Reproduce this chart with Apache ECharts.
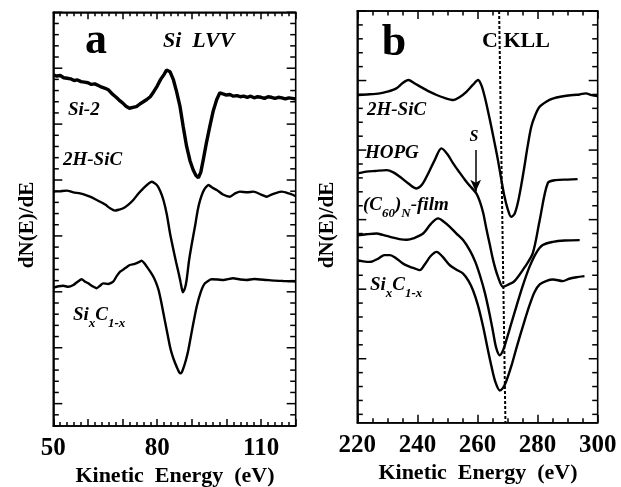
<!DOCTYPE html>
<html><head><meta charset="utf-8">
<script src="https://cdn.jsdelivr.net/npm/echarts@6/dist/echarts.min.js"></script>
<style>html,body{margin:0;padding:0;background:#fff}#c{width:621px;height:487px}</style>
</head><body><div id="c"></div>
<script>
// ---------- Panel a : Si LVV ----------
const aXTickLabels = [50, 80, 110];
const aSi2 = [[50,31.40],[51,31.30],[52,31.35],[53,31.15],[54,31.10],[55,31.05],[56,30.90],[57,30.95],[58,30.80],[59,30.75],[60,30.70],[61,30.55],[62,30.60],[63,30.45],[64,30.30],[65,30.20],[66,30.05],[67,29.70],[68,29.45],[69,29.15],[70,28.90],[71,28.60],[72,28.42],[73,28.50],[74,28.56],[75,28.80],[76,29.00],[77,29.20],[78,29.45],[79,29.90],[80,30.40],[81,31.00],[82,31.45],[82.7,31.84],[83.7,31.69],[84.7,30.95],[85.6,29.9],[86.6,28.56],[87.5,26.8],[88.5,25.0],[89.5,23.7],[90.4,22.9],[91.2,22.4],[91.9,22.2],[92.6,22.7],[93.3,23.8],[94.2,25.3],[95.2,26.8],[96.2,28.2],[97.2,29.2],[98.1,29.8],[99,29.7],[100,29.6],[101,29.65],[102,29.5],[103,29.55],[104,29.45],[105,29.5],[106,29.4],[107,29.5],[108,29.35],[109,29.45],[110,29.4],[111,29.3],[112,29.45],[113,29.4],[114,29.3],[115,29.4],[116,29.35],[117,29.25],[118,29.35],[119,29.3],[120,29.25]];
const a2HSiC = [[50,20.96],[52,21.0],[53.9,21.05],[55.8,20.9],[57.7,20.81],[59,20.7],[60.6,20.51],[62,20.3],[63.5,20.06],[65,19.8],[66.4,19.47],[67.8,19.26],[69,19.35],[70.2,19.47],[71.7,19.8],[73.1,20.21],[74.6,20.8],[76,21.26],[77.2,21.6],[78.4,21.85],[79.9,21.56],[80.9,21.0],[81.8,20.21],[82.8,18.9],[83.7,17.24],[84.7,15.74],[85.5,14.6],[86.2,13.66],[86.8,12.8],[87.4,11.96],[88,12.3],[88.5,13.06],[89.2,14.8],[90,16.3],[91,18.0],[91.7,19.3],[92.4,20.21],[93.5,21.1],[94.8,21.56],[96,21.3],[97.2,21.11],[99,20.7],[101,20.51],[102.5,20.8],[103.9,20.96],[106,20.9],[107.8,20.96],[110,20.7],[111.6,20.51],[113,20.7],[114,20.81],[116,20.96],[118,20.8],[119.3,20.66],[120,20.55]];
const aSiC = [[50,12.37],[51.5,12.5],[52.9,12.55],[54.3,12.45],[55.8,12.61],[57,12.9],[58.2,13.12],[59.2,12.9],[60.1,12.76],[61.3,12.5],[62.5,12.32],[63.5,12.55],[64.4,12.76],[65.8,12.7],[67.3,12.91],[68.3,13.4],[69.3,13.8],[70.7,14.1],[72.1,14.4],[73.5,14.5],[75,14.7],[75.5,14.79],[76.3,14.55],[77,14.25],[78,13.8],[78.9,13.35],[79.7,12.8],[80.4,12.16],[81.1,11.2],[81.8,10.08],[82.8,8.5],[83.7,7.09],[84.5,6.2],[85.2,5.61],[85.9,5.1],[86.6,4.71],[87.1,4.8],[87.6,5.19],[88.3,5.9],[89,6.8],[90.2,8.8],[91.4,10.67],[92.6,12.0],[93.8,12.76],[95.7,13.12],[97.5,13.1],[99.1,13.06],[101.9,13.21],[104,13.1],[105.8,13.06],[108,13.15],[111.6,13.06],[114,13.0],[116.4,12.97],[118,12.95],[120,12.91]];
const aYMinorTicks = [0,1,2,3,4,5,6,7,8,9,10,11,12,13,14,15,16,17,18,19,20,21,22,23,24,25,26,27,28,29,30,31,32,33,34,35,36,37];
const aYMajorTicks = [2,7,12,17,22,27,32,37];

// ---------- Panel b : C KLL ----------
const bXTickLabels = [220, 240, 260, 280, 300];
const b2HSiC = [[220,23.96],[223,24.0],[227.5,24.08],[230,24.2],[233,24.44],[235,24.8],[237,25.04],[239,24.8],[242,24.44],[244,24.2],[246.4,23.96],[249,23.75],[252,23.6],[254,23.8],[256.3,24.19],[258.5,24.7],[260.2,25.04],[261.4,24.6],[262.4,23.83],[263.5,22.8],[264.6,21.68],[265.7,20.5],[266.8,19.28],[268,17.8],[269,16.64],[270,15.8],[271.2,15.2],[272.3,15.4],[273.4,16.19],[274.5,17.4],[275.6,18.8],[276.7,20.3],[277.9,21.68],[279.2,22.5],[280.6,23.1],[283,23.5],[285,23.7],[288,23.85],[291.7,23.96],[294,24.0],[296,24.08],[298,23.95],[300,23.88]];
const bHOPG = [[220,18.32],[223,18.45],[226,18.5],[229.8,18.56],[232,18.4],[234.2,18.08],[237,17.6],[239.7,17.24],[241.5,17.5],[243.6,18.32],[245.8,19.3],[248,20.12],[250,19.7],[251.9,19.04],[254,18.4],[256.3,17.72],[258,17.3],[259.6,16.88],[260.8,16.3],[261.9,15.47],[262.9,14.4],[264,13.3],[265.3,12.0],[266.8,10.9],[268.5,10.17],[270,10.3],[272.4,10.6],[275.7,11.58],[278.4,12.59],[280.7,14.96],[283.4,17.63],[286,17.84],[290,17.88],[293.3,17.91]];
const bC60 = [[220,13.88],[223,13.95],[226.4,14.0],[228.5,13.9],[230.9,13.76],[234,13.6],[236.5,13.55],[238.6,13.65],[241.9,14.0],[244.5,14.7],[246.9,15.09],[248.8,14.85],[250.8,14.48],[253,14.0],[255.2,13.53],[257.4,12.81],[259.2,12.0],[260.8,11.0],[262.5,9.7],[264.1,8.13],[265.2,6.9],[266.2,5.8],[267.4,5.25],[268.5,5.6],[269.6,6.33],[271.2,7.5],[272.9,8.73],[275,10.2],[277.3,11.6],[279.5,12.6],[281.7,13.17],[285.1,13.4],[289,13.5],[294,13.53]];
const bSiC = [[220,12.09],[222,12.0],[224.2,11.96],[227,12.2],[229,12.45],[230.9,12.45],[233,12.2],[235.5,11.8],[237.5,11.61],[239,11.5],[240.8,11.37],[242.5,11.8],[244.5,12.4],[246.4,12.68],[248.5,12.3],[250.8,11.72],[253,11.4],[255.2,11.12],[257,10.6],[258.5,9.92],[260.2,8.8],[261.9,7.28],[263.3,5.8],[264.7,4.4],[266,3.3],[267.4,2.72],[268.5,2.9],[269.6,3.4],[271.3,4.5],[273,5.8],[275.2,7.4],[277.4,8.9],[279,9.8],[280.7,10.34],[283,10.6],[285.1,10.7],[288.4,10.58],[290.5,10.75],[292.9,10.86],[295.6,10.94]];
const bDashLine = [[267.2,30],[269.3,0.4]];
const bArrowS = [[259.4,20.0],[259.4,17.0]];
const bYMinorTicks = [1,2,3,4,5,6,7,8,9,10,11,12,13,14,15,16,17,18,19,20,21,22,23,24,25,26,27,28,29,30];
const bYMajorTicks = [5,10,15,20,25,30];

// ---------- build ----------
const FONT = 'Liberation Serif';
const BLACK = '#000';
const LINE = {color:BLACK, width:1.6};
const TICK = {color:BLACK, width:1.5};

function xPair(gi, min, max, interval, split, labels, shortLen, longLen) {
  const common = {type:'value', gridIndex:gi, min, max, interval, splitLine:{show:false},
    axisLine:{show:true, onZero:false, lineStyle:LINE},
    axisTick:{show:true, inside:true, length:longLen, lineStyle:TICK},
    minorTick:{show:true, splitNumber:split, length:shortLen, lineStyle:TICK}};
  return [
    Object.assign({}, common, {position:'bottom',
      axisLabel:{show:true, margin:10, color:BLACK, fontFamily:FONT, fontWeight:'bold', fontSize:25,
        formatter: v => labels.indexOf(v) >= 0 ? String(v) : ''}}),
    Object.assign({}, common, {position:'top', axisLabel:{show:false}})
  ];
}
function yAxisFor(gi, min, max) {
  return {type:'value', gridIndex:gi, min, max, position:'left', splitLine:{show:false},
    axisLine:{show:true, onZero:false, lineStyle:LINE}, axisTick:{show:false}, axisLabel:{show:false}};
}
function curve(data, xi, yi, w, smooth) {
  return {type:'line', xAxisIndex:xi, yAxisIndex:yi, data, showSymbol:false, symbol:'none', smooth:smooth,
    lineStyle:{color:BLACK, width:w}, silent:true, clip:true};
}
// inward frame ticks on both vertical edges, placed through the y scale
function frameTicks(xi, yi, minors, majors, xmin, xmax, shortLen, longLen) {
  const data = minors.map(v => [xmin, v, majors.indexOf(v) >= 0 ? 1 : 0]);
  return {type:'custom', xAxisIndex:xi, yAxisIndex:yi, silent:true, clip:false, data, z:5,
    encode:{x:0, y:1},
    renderItem:(params, api) => {
      const v = api.value(1);
      const len = api.value(2) > 0.5 ? longLen : shortLen;
      const pl = api.coord([xmin, v]);
      const pr = api.coord([xmax, v]);
      return {type:'group', children:[
        {type:'line', shape:{x1:pl[0], y1:pl[1], x2:pl[0] + len, y2:pl[1]}, style:{stroke:BLACK, lineWidth:1.5}},
        {type:'line', shape:{x1:pr[0], y1:pr[1], x2:pr[0] - len, y2:pr[1]}, style:{stroke:BLACK, lineWidth:1.5}}
      ]};
    }};
}

const xAxes = [].concat(
  xPair(0, 50, 120, 10, 5, aXTickLabels, 4, 7),
  xPair(1, 220, 300, 20, 4, bXTickLabels, 4.5, 8)
);
const yAxes = [yAxisFor(0, 0, 37), yAxisFor(1, 0.4, 30)];

const series = [
  frameTicks(0, 0, aYMinorTicks, aYMajorTicks, 50, 120, 5.5, 9),
  frameTicks(2, 1, bYMinorTicks, bYMajorTicks, 220, 300, 5.5, 9),
  curve(aSi2, 0, 0, 3.4, false),
  curve(a2HSiC, 0, 0, 2.4, 0.2),
  curve(aSiC, 0, 0, 2.4, 0.2),
  curve(b2HSiC, 2, 1, 2.4, 0.3),
  curve(bHOPG, 2, 1, 2.4, 0.3),
  curve(bC60, 2, 1, 2.4, 0.3),
  curve(bSiC, 2, 1, 2.4, 0.3),
  {type:'line', xAxisIndex:2, yAxisIndex:1, data:bDashLine, showSymbol:false, symbol:'none', silent:true,
    lineStyle:{color:BLACK, width:2, type:[3,2]}},
  {type:'line', xAxisIndex:2, yAxisIndex:1, data:[], silent:true,
    markLine:{silent:true, symbol:['none','arrow'], symbolSize:[8,12], label:{show:false},
      lineStyle:{color:BLACK, width:1.5, type:'solid'},
      data:[[{coord:bArrowS[0]},{coord:bArrowS[1]}]]}}
];

function txt(x, y, text, size, opts) {
  opts = opts || {};
  return {type:'text', x, y, silent:true, rotation:opts.rot || 0,
    style:Object.assign({text, fill:BLACK, fontFamily:FONT, fontWeight:'bold', fontSize:size,
      fontStyle:opts.italic ? 'italic' : 'normal', align:'left', verticalAlign:'middle'}, opts.style || {})};
}
const subRich = {
  m:{fontFamily:FONT, fontWeight:'bold', fontStyle:'italic', fontSize:19, lineHeight:19, verticalAlign:'top', fill:BLACK},
  s:{fontFamily:FONT, fontWeight:'bold', fontStyle:'italic', fontSize:13, lineHeight:13, padding:[11,0,0,0], verticalAlign:'top', fill:BLACK}
};
function richTxt(x, y, text) {
  return {type:'text', x, y, silent:true, style:{text, rich:subRich, fill:BLACK, fontFamily:FONT, fontSize:19,
    fontWeight:'bold', fontStyle:'italic', align:'left', verticalAlign:'top'}};
}

const graphics = [
  txt(96, 42, 'a', 44, {style:{align:'center'}}),
  txt(163, 41, 'Si  LVV', 22, {italic:true}),
  txt(68, 110, 'Si-2', 19, {italic:true}),
  txt(63, 160, '2H-SiC', 19, {italic:true}),
  richTxt(73, 306, '{m|Si}{s|x}{m|C}{s|1-x}'),
  txt(28, 225, 'dN(E)/dE', 21, {rot:Math.PI/2, style:{align:'center'}}),
  txt(175, 476, 'Kinetic  Energy  (eV)', 22, {style:{align:'center'}}),
  txt(394, 44, 'b', 44, {style:{align:'center'}}),
  txt(482, 41, 'C KLL', 22),
  txt(367, 110, '2H-SiC', 19, {italic:true}),
  txt(474, 137, 'S', 16, {italic:true, style:{align:'center'}}),
  txt(365, 153, 'HOPG', 19, {italic:true}),
  richTxt(363, 196, '{m|(C}{s|60}{m|)}{s|N}{m|-film}'),
  richTxt(370, 276, '{m|Si}{s|x}{m|C}{s|1-x}'),
  txt(327.5, 225, 'dN(E)/dE', 21, {rot:Math.PI/2, style:{align:'center'}}),
  txt(478, 473, 'Kinetic  Energy  (eV)', 22, {style:{align:'center'}})
];

const chart = echarts.init(document.getElementById('c'), null, {renderer:'canvas'});
chart.setOption({
  animation:false,
  backgroundColor:'#fff',
  grid:[
    {left:53.3, top:12.3, width:242.4, height:413.7, containLabel:false, show:true, borderColor:BLACK, borderWidth:1.6, backgroundColor:'transparent'},
    {left:357.3, top:11, width:240.4, height:411.7, containLabel:false, show:true, borderColor:BLACK, borderWidth:1.6, backgroundColor:'transparent'}
  ],
  xAxis:xAxes,
  yAxis:yAxes,
  series,
  graphic:graphics
});
</script></body></html>
